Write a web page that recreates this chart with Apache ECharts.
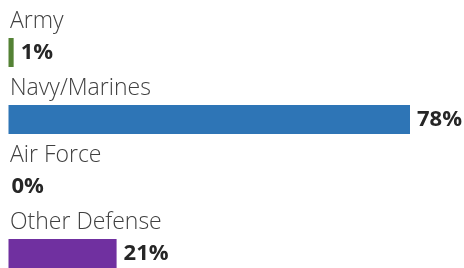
<!DOCTYPE html>
<html>
<head>
<meta charset="utf-8">
<script src="https://cdn.jsdelivr.net/npm/echarts@6/dist/echarts.min.js"></script>
<style>
  html, body { margin: 0; padding: 0; background: #fff; }
  #chart { width: 464px; height: 268px; }
</style>
</head>
<body>
<div id="chart"></div>
<script>
// 各军种占比
const categories = ['Army', 'Navy/Marines', 'Air Force', 'Other Defense'];
const shares = [1, 78, 0, 21];
const barColors = ['#548235', '#2e75b6', '#7f7f7f', '#7030a0'];

const chart = echarts.init(document.getElementById('chart'));

chart.setOption({
  animation: false,
  // 类目轴不留边距，条形中心落在刻度上
  grid: { left: 8.5, right: 54, top: 52.5, bottom: 14.5 },
  xAxis: { type: 'value', min: 0, max: 'dataMax', show: false },
  yAxis: { type: 'category', data: categories, inverse: true, boundaryGap: false, show: false },
  series: [
    {
      // 数值条 + 百分比
      type: 'bar',
      barWidth: 29,
      clip: false,
      data: shares.map((v, i) => ({
        value: v,
        itemStyle: { color: barColors[i] },
        label: v === 0 ? { distance: 3 } : undefined,
      })),
      label: {
        show: true,
        position: 'right',
        distance: 7,
        formatter: '{c}%',
        fontFamily: 'Open Sans',
        fontWeight: 'bold',
        fontSize: 22,
        color: '#262626',
      },
    },
    {
      // 类别名称，放在条形上方
      type: 'bar',
      barWidth: 29,
      barGap: '-100%',
      clip: false,
      silent: true,
      data: categories.map(() => 0),
      itemStyle: { color: 'transparent' },
      label: {
        show: true,
        position: [1.5, -28.5],
        formatter: p => p.name,
        fontFamily: 'Open Sans',
        fontWeight: 300,
        fontSize: 23,
        color: '#404040',
      },
    },
  ],
});
</script>
</body>
</html>
